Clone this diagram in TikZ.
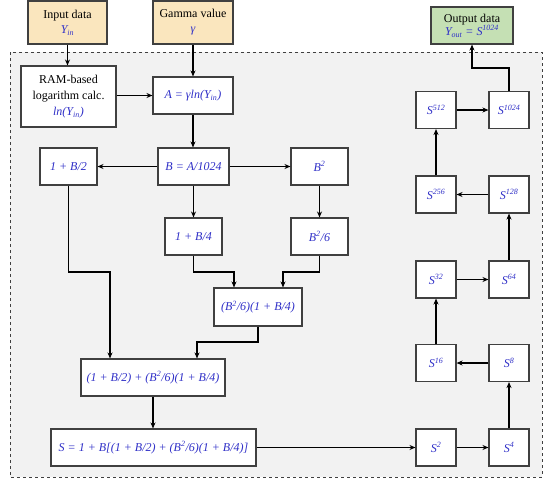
\documentclass[tikz,border=0pt]{standalone}
\usepackage{fontspec}
\setmainfont{Liberation Serif}
\usetikzlibrary{arrows.meta}
\definecolor{mblue}{RGB}{48,48,200}
\definecolor{inyellow}{RGB}{250,230,190}
\definecolor{outgreen}{RGB}{197,224,180}
\definecolor{bgray}{RGB}{242,242,242}
\definecolor{edgegray}{RGB}{64,64,64}
\newcommand\mth[1]{\textcolor{mblue}{\itshape #1}}
\newcommand\spr[1]{\textsuperscript{#1}}
\newcommand\sbs[1]{\textsubscript{#1}}
\begin{document}
\begin{tikzpicture}[x=1pt,y=-1pt,
  box/.style={draw=edgegray, line width=1.1pt, fill=white, inner sep=2pt, align=center,
    font=\fontsize{12}{16}\selectfont},
  inbox/.style={box, fill=inyellow},
  outbox/.style={box, fill=outgreen},
  sq/.style={box, minimum width=40pt, minimum height=37pt},
  conn/.style={-{Stealth[length=6pt,width=5pt]}, line width=1.1pt, black}]
\useasboundingbox (0,0) rectangle (550,490);
\fill[white] (0,0) rectangle (550,490);
\draw[dashed, draw=edgegray, fill=bgray, line width=1pt] (10,52) rectangle (542,477);

\node[inbox, minimum width=79pt, minimum height=43pt] (inp) at (67.5,22.5) {Input data\\[-1pt]\mth{Y\sbs{in}}};
\node[inbox, minimum width=80pt, minimum height=43pt] (gam) at (193,22.5) {Gamma value\\[-1pt]\mth{γ}};
\node[outbox, minimum width=82pt, minimum height=37pt] (out) at (472,25.5) {Output data\\[-3pt]\mth{Y\sbs{out} = S\spr{1024}}};

\node[box, minimum width=95pt, minimum height=61pt] (ram) at (68.5,96.5) {RAM-based\\logarithm calc.\\\mth{ln(Y\sbs{in})}};
\node[box, minimum width=80pt, minimum height=37pt] (a) at (193,95.5) {\mth{A = γln(Y\sbs{in})}};
\node[box, minimum width=71pt, minimum height=37pt] (b) at (193.5,166.5) {\mth{B = A/1024}};
\node[box, minimum width=57pt, minimum height=37pt] (h2) at (68.5,166.5) {\mth{1 + B/2}};
\node[box, minimum width=57pt, minimum height=37pt] (bsq) at (319.5,166.5) {\mth{B\spr{2}}};
\node[box, minimum width=57pt, minimum height=37pt] (q4) at (193.5,236.5) {\mth{1 + B/4}};
\node[box, minimum width=57pt, minimum height=37pt] (b6) at (319.5,236.5) {\mth{B\spr{2}/6}};
\node[box, minimum width=88pt, minimum height=38pt] (prod) at (258,307) {\mth{(B\spr{2}/6)(1 + B/4)}};
\node[box, minimum width=144pt, minimum height=37pt] (sum) at (153,377.5) {\mth{(1 + B/2) + (B\spr{2}/6)(1 + B/4)}};
\node[box, minimum width=205pt, minimum height=37pt] (s) at (153.5,447.5) {\mth{S = 1 + B[(1 + B/2) + (B\spr{2}/6)(1 + B/4)]}};

\node[sq] (s2) at (436,447.5) {\mth{S\spr{2}}};
\node[sq] (s4) at (509,447.5) {\mth{S\spr{4}}};
\node[sq] (s8) at (509,363) {\mth{S\spr{8}}};
\node[sq] (s16) at (436,363) {\mth{S\spr{16}}};
\node[sq] (s32) at (436,279.5) {\mth{S\spr{32}}};
\node[sq] (s64) at (509,279.5) {\mth{S\spr{64}}};
\node[sq] (s128) at (509,194.5) {\mth{S\spr{128}}};
\node[sq] (s256) at (436,194.5) {\mth{S\spr{256}}};
\node[sq] (s512) at (436,110) {\mth{S\spr{512}}};
\node[sq] (s1024) at (509,110) {\mth{S\spr{1024}}};

\draw[conn] (inp.south) -- (inp.south |- ram.north);
\draw[conn] (gam.south) -- (gam.south |- a.north);
\draw[conn] (ram.east |- a.west) -- (a.west);
\draw[conn] (a.south) -- (a.south |- b.north);
\draw[conn] (b.west) -- (h2.east);
\draw[conn] (b.east) -- (bsq.west);
\draw[conn] (b.south) -- (q4.north);
\draw[conn] (bsq.south) -- (b6.north);
\draw[conn] (q4.south) -- (q4.south |- 0,272) -| ([xshift=-24pt]prod.north);
\draw[conn] (b6.south) -- (b6.south |- 0,272) -| ([xshift=25pt]prod.north);
\draw[conn] (h2.south) -- (h2.south |- 0,272) -| ([xshift=-43pt]sum.north);
\draw[conn] (prod.south) -- (prod.south |- 0,342) -| ([xshift=44pt]sum.north);
\draw[conn] (sum.south) -- (sum.south |- s.north);
\draw[conn] (s.east) -- (s2.west);
\draw[conn] (s2) -- (s4);
\draw[conn] (s4) -- (s8);
\draw[conn] (s8) -- (s16);
\draw[conn] (s16) -- (s32);
\draw[conn] (s32) -- (s64);
\draw[conn] (s64) -- (s128);
\draw[conn] (s128) -- (s256);
\draw[conn] (s256) -- (s512);
\draw[conn] (s512) -- (s1024);
\draw[conn] (s1024.north) -- (s1024.north |- 0,68) -| (out.south);
\end{tikzpicture}
\end{document}
